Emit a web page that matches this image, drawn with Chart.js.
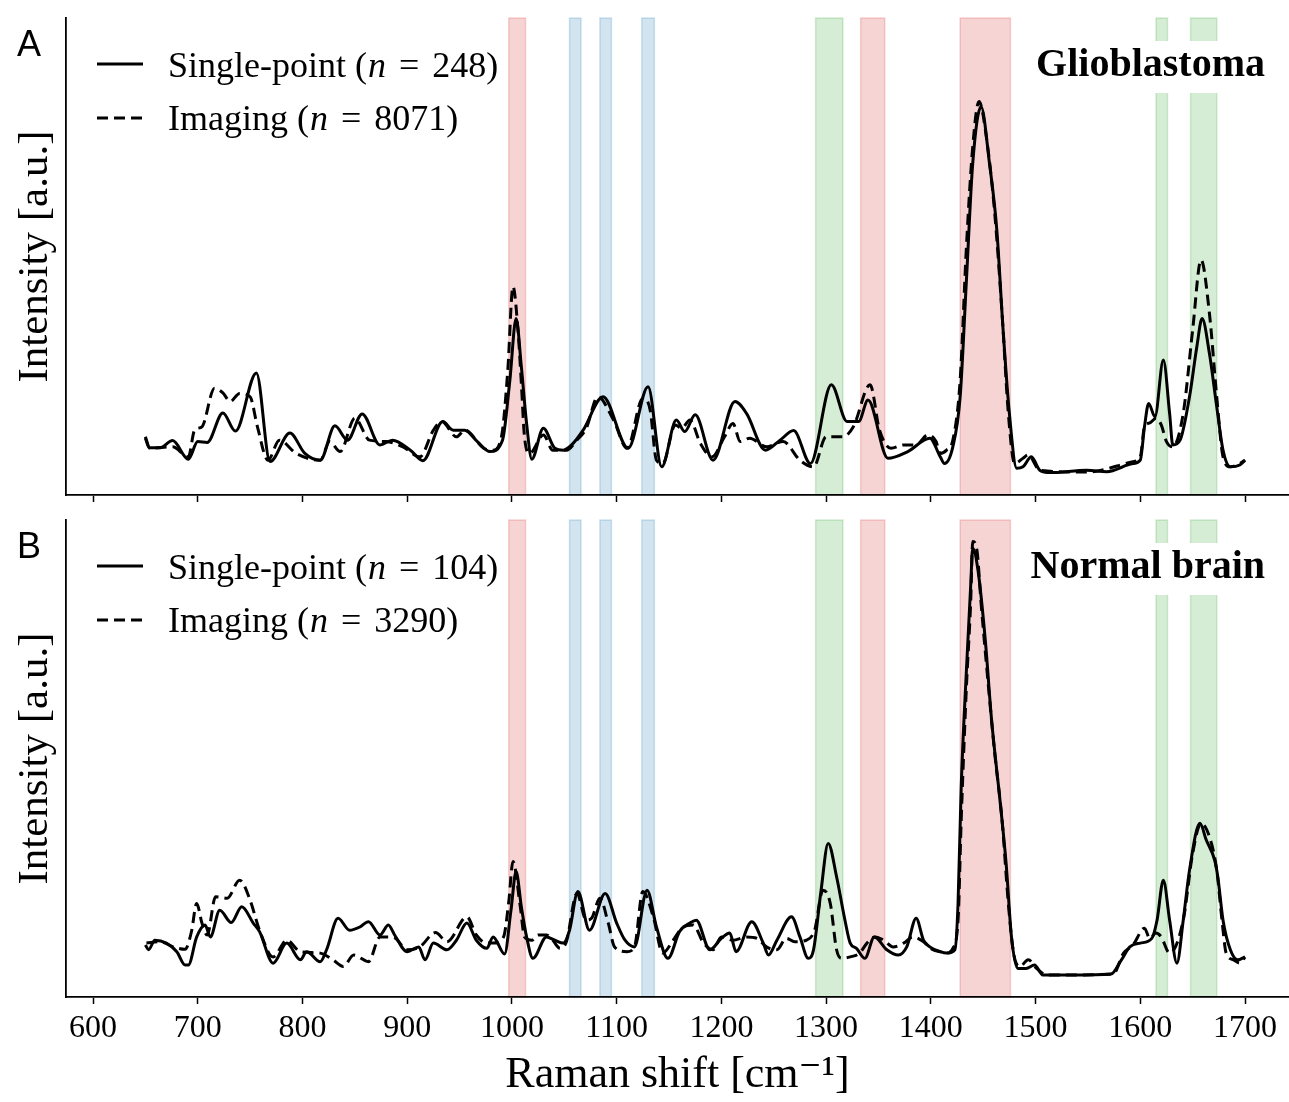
<!DOCTYPE html>
<html><head><meta charset="utf-8">
<script src="https://cdn.jsdelivr.net/npm/chart.js@4.4.1/dist/chart.umd.min.js"></script>
<style>
html,body{margin:0;padding:0;background:#fff;width:1289px;height:1102px;overflow:hidden}
canvas{position:absolute;left:0}
#cA{top:0}
#cB{top:502px}
</style></head><body>
<canvas id="cA" width="1289" height="502"></canvas>
<canvas id="cB" width="1289" height="600"></canvas>
<script>
// ---------- tick labels ----------
const xTickLabels = ['600','700','800','900','1000','1100','1200','1300','1400','1500','1600','1700'];

// ---------- highlighted Raman bands ----------
const bandStart = [997, 1055, 1084, 1124, 1290, 1333, 1428, 1615, 1648];
const bandEnd   = [1013, 1066, 1095, 1136, 1316, 1356, 1476, 1626, 1673];
const bandKind  = ['red','blue','blue','blue','green','red','red','green','green'];

// ---------- Panel A: Glioblastoma ----------
const gbSingleShift = [650,654,664,676,691,700,709,724,736,756,769,788,802,817,831,843,857,874,886,903,915,934,944,955,967,979,991,998,1004,1009,1014,1019,1030,1041,1049,1057,1068,1087,1111,1130,1143,1157,1165,1175,1192,1213,1224,1242,1256,1269,1285,1305,1320,1331,1340,1359,1378,1399,1409,1413,1421,1428,1434,1440,1448,1456,1463,1469,1475,1482,1488,1496,1504,1514,1549,1568,1593,1600,1604,1608,1614,1622,1628,1631,1638,1647,1654,1659,1666,1673,1679,1686,1695,1700];
const gbSingleIntensity = [12.2,9.9,9.9,11.4,7.5,11.2,11.0,17.2,13.4,25.6,7.0,13.0,8.8,7.3,14.5,11.5,17.0,10.5,11.5,9.4,7.2,15.4,13.6,13.6,11.2,9.1,11.5,24,37.0,26.9,15.0,7.5,14.0,9.8,9.4,10.5,13.6,20.6,9.8,22.7,5.9,15.7,13.3,16.8,7.3,19.6,17.1,9.4,11.5,13.5,6.6,23.1,15.4,15.4,19.9,7.7,9.1,11.9,8.0,6.6,10.1,20.6,45.1,69.5,81.4,69.5,55.6,34.6,17.1,5.6,5.9,8.0,5.2,4.7,5.2,4.9,6.6,7.3,14.3,19.2,16.4,28.3,17.1,10.5,11.5,20.6,31.1,37.0,29.7,18.5,9.4,5.9,6.3,7.3];

const gbImagingShift = [650,654,676,691,697,704,716,724,731,740,750,757,767,778,794,817,826,836,850,864,880,896,912,925,933,947,955,973,982,990,996,1001,1006,1009,1012,1017,1030,1039,1052,1062,1071,1082,1097,1110,1125,1132,1138,1144,1156,1162,1170,1180,1191,1203,1211,1218,1227,1243,1259,1275,1288,1300,1316,1326,1342,1351,1362,1374,1386,1397,1405,1409,1415,1421,1428,1434,1440,1446,1453,1461,1468,1474,1480,1488,1493,1504,1549,1593,1600,1604,1609,1615,1620,1625,1631,1641,1650,1658,1666,1673,1679,1686,1695,1700];
const gbImagingIntensity = [11.9,9.8,10.1,8.0,13.6,14.3,22.4,21.4,19.6,21.3,20.6,14.3,7.3,11.5,8.7,7.3,11.2,9.1,16.1,11.5,11.2,10.1,8.0,13.6,15.4,12.2,13.6,9.8,9.4,12.2,26,43.7,33.9,23.4,12.2,8.7,12.6,9.4,9.4,11.5,14.0,20.6,15.7,9.8,20.3,17.8,7.3,6.6,14.7,14.0,15.7,10.8,8.0,12.2,15.0,11.2,11.9,10.1,11.2,7.3,5.9,12.2,12.2,14.3,23.1,13.6,9.8,10.5,10.5,12.6,11.2,8.7,9.4,11.5,24.1,52.1,73.0,82.5,75.1,59.1,38.1,17.1,6.6,7.7,8.4,5.2,4.8,7.0,8.0,14.3,15.1,16.1,14.7,11.2,10.1,17.1,34.6,49.3,38.1,20.6,8.0,5.9,6.6,7.3];

// ---------- Panel B: Normal brain ----------
const nbSingleShift = [650,653,659,670,680,688,691,699,707,712,721,732,742,753,759,772,785,798,804,817,823,834,845,855,863,874,882,888,900,911,917,925,938,947,957,966,976,982,993,999,1004,1009,1014,1020,1033,1041,1049,1055,1063,1074,1089,1100,1108,1117,1129,1138,1149,1160,1170,1176,1189,1200,1208,1214,1229,1240,1245,1253,1267,1275,1283,1288,1295,1302,1310,1318,1323,1329,1337,1346,1358,1369,1377,1386,1393,1399,1409,1415,1423,1426,1429,1434,1438,1440,1445,1452,1458,1466,1472,1477,1483,1491,1499,1507,1536,1572,1582,1590,1600,1611,1616,1622,1628,1635,1641,1647,1657,1663,1671,1674,1679,1686,1693,1700];
const nbSingleIntensity = [10.9,9.9,11.9,11.3,9.5,6.7,6.7,12.6,15.1,12.6,18.2,15.6,18.9,15.5,13.7,7.1,11.3,7.8,9.5,7.4,9.9,16.5,14.0,14.7,15.8,13.0,15.1,13.0,9.5,10.5,7.8,11.3,9.9,11.9,15.5,11.9,10.2,12.6,9.0,18,26.3,18.9,12.6,8.1,12.6,11.9,11.3,14.0,22.1,14.0,21.7,15.5,11.9,10.5,22.4,14.7,8.1,13.7,15.5,16.1,9.9,12.3,13.4,9.5,15.8,11.3,8.8,11.9,16.8,12.6,8.1,9.9,22,32.2,25.2,16.1,11.3,10.2,8.1,12.6,9.9,8.8,10.5,16.5,11.9,10.5,9.5,9.2,9.9,19.7,44.1,68.6,86.0,94.1,89.5,74.8,58.1,41.3,27.7,12.6,6.0,6.0,6.7,4.6,4.6,4.8,7.8,10.5,11.3,12.3,16.1,24.5,16.1,7.1,16.1,26.6,36.4,32.9,28.7,25.2,16.1,9.9,7.8,8.4];

const nbImagingShift = [651,664,677,688,694,699,704,709,717,728,740,750,759,772,785,798,817,829,839,849,863,874,887,900,912,927,938,957,966,976,982,992,997,1001,1008,1012,1019,1025,1033,1039,1046,1052,1062,1071,1076,1084,1092,1098,1110,1117,1125,1135,1144,1154,1162,1173,1183,1192,1200,1211,1224,1234,1243,1253,1262,1270,1281,1289,1297,1304,1310,1315,1323,1332,1339,1347,1355,1364,1374,1383,1393,1402,1409,1415,1421,1426,1429,1434,1438,1440,1444,1448,1455,1461,1468,1474,1479,1485,1493,1501,1511,1574,1584,1593,1604,1609,1615,1620,1628,1641,1650,1658,1666,1673,1678,1682,1689,1695,1700];
const nbImagingIntensity = [11.3,11.6,10.5,10.0,13.7,19.6,15.5,13.0,21.0,20.7,24.5,20.3,14.0,8.4,11.9,9.5,9.2,7.8,6.4,8.8,7.4,12.6,12.5,9.9,10.5,13.5,11.6,16.8,13.0,11.3,11.3,12.6,20,28.4,18.9,12.6,11.9,13.0,13.0,11.9,10.2,11.6,21.7,16.1,16.5,20.7,15.5,10.5,9.5,10.5,22.1,16.8,9.2,11.9,14.4,15.1,11.3,9.9,12.6,11.9,12.6,12.3,10.5,9.9,12.3,11.6,11.9,14.0,22.4,19.6,9.9,8.1,8.4,9.2,11.3,12.6,11.9,10.5,11.3,12.6,11.6,9.9,9.5,9.2,10.2,16.1,37.1,65.1,82.5,95.5,93.7,82.5,65.1,51.1,37.1,19.6,9.2,6.4,7.8,6.0,4.6,4.8,9.2,10.9,14.4,12.3,13.4,12.6,9.2,16.1,30.1,36.4,33.6,26.6,16.1,9.2,7.8,7.1,8.4];

// ---------- styling ----------
const BAND_FILL = {red:'rgba(214,39,40,0.2)', blue:'rgba(31,119,180,0.2)', green:'rgba(44,160,44,0.2)'};
const SERIF = '"Liberation Serif","DejaVu Serif",serif';

function pts(xs, ys){ return xs.map((x,i)=>({x:x, y:ys[i]})); }

const panelPlugin = {
  id: 'panelDecor',
  beforeDraw(chart) {
    const {ctx, chartArea:{top,bottom}, scales:{x}} = chart;
    ctx.save();
    for (let i=0;i<bandStart.length;i++){
      const x0 = x.getPixelForValue(bandStart[i]);
      const x1 = x.getPixelForValue(bandEnd[i]);
      ctx.fillStyle = BAND_FILL[bandKind[i]];
      ctx.fillRect(x0, top, x1-x0, bottom-top);
      ctx.strokeStyle = BAND_FILL[bandKind[i]];
      ctx.lineWidth = 1.5;
      ctx.strokeRect(x0, top, x1-x0, bottom-top);
    }
    ctx.restore();
  },
  afterDatasetsDraw(chart, args, opts) {
    const {ctx, chartArea} = chart;
    ctx.save();
    // white legend box behind tissue label
    ctx.fillStyle = '#fff';
    ctx.fillRect(1022, chartArea.top + 23, 260, 52);
    ctx.fillStyle = '#000';
    ctx.font = 'bold 40px ' + SERIF;
    ctx.textAlign = 'right';
    ctx.textBaseline = 'alphabetic';
    ctx.fillText(opts.tissue, chartArea.right - 24, chartArea.top + 58);
    // panel letter
    ctx.font = '36px "Liberation Sans", Arial, sans-serif';
    ctx.textAlign = 'left';
    ctx.fillText(opts.letter, 17, 56);
    // legend
    const rows = [
      {label: 'Single-point (', n: opts.nSingle, dash: [], y: 64, base: 77},
      {label: 'Imaging (', n: opts.nImaging, dash: [11,6], y: 118, base: 130}
    ];
    rows.forEach(r => {
      ctx.beginPath();
      ctx.setLineDash(r.dash);
      ctx.lineWidth = 3;
      ctx.strokeStyle = '#000';
      ctx.moveTo(97, r.y); ctx.lineTo(143, r.y);
      ctx.stroke();
      ctx.setLineDash([]);
      let xx = 168;
      ctx.font = '36px ' + SERIF;
      ctx.fillText(r.label, xx, r.base);
      xx += ctx.measureText(r.label).width + 1;
      ctx.font = 'italic 36px ' + SERIF;
      ctx.fillText('n', xx, r.base);
      xx += ctx.measureText('n').width + 13;
      ctx.font = '36px ' + SERIF;
      ctx.fillText('=', xx, r.base);
      xx += ctx.measureText('=').width + 13;
      ctx.fillText(r.n + ')', xx, r.base);
    });
    ctx.restore();
  }
};

function makePanel(id, single, imaging, showLabels, decor) {
  return new Chart(document.getElementById(id), {
    type: 'line',
    data: {
      datasets: [
        {label: 'Single-point', data: single, borderColor: '#000', borderWidth: 3,
         pointRadius: 0, cubicInterpolationMode: 'monotone', fill: false},
        {label: 'Imaging', data: imaging, borderColor: '#000', borderWidth: 3, borderDash: [11,6],
         pointRadius: 0, cubicInterpolationMode: 'monotone', fill: false}
      ]
    },
    options: {
      responsive: false, animation: false, devicePixelRatio: 1,
      layout: {padding: {top: 18, left: 0, right: 0, bottom: 0}},
      plugins: {legend: {display: false}, tooltip: {enabled: false}, panelDecor: decor},
      scales: {
        x: {
          type: 'linear', min: 574.2, max: 1742,
          afterBuildTicks: (s) => { s.ticks = xTickLabels.map(v => ({value: Number(v)})); },
          ticks: {display: showLabels, includeBounds: false, padding: 5, color: '#000',
                  font: {family: SERIF, size: 32},
                  callback: (v) => xTickLabels[xTickLabels.indexOf(String(v))]},
          grid: {display: true, drawOnChartArea: false, drawTicks: true, tickLength: 7,
                 tickWidth: 1.5, tickColor: '#000'},
          border: {display: true, color: '#000', width: 1.8},
          title: {display: showLabels, text: 'Raman shift [cm\u207B\u00B9]', color: '#000',
                  font: {family: SERIF, size: 44}, padding: {top: 0, bottom: 0}},
          afterFit: (s) => { s.height = showLabels ? 105 : 7; }
        },
        y: {
          min: 0, max: 100,
          ticks: {display: false},
          grid: {display: false},
          border: {display: true, color: '#000', width: 1.8},
          title: {display: true, text: 'Intensity [a.u.]', color: '#000',
                  font: {family: SERIF, size: 43}, padding: {top: 10, bottom: 0}},
          afterFit: (s) => { s.width = 66; }
        }
      }
    },
    plugins: [panelPlugin]
  });
}

makePanel('cA', pts(gbSingleShift, gbSingleIntensity), pts(gbImagingShift, gbImagingIntensity), false,
  {letter: 'A', tissue: 'Glioblastoma', nSingle: '248', nImaging: '8071'});
makePanel('cB', pts(nbSingleShift, nbSingleIntensity), pts(nbImagingShift, nbImagingIntensity), true,
  {letter: 'B', tissue: 'Normal brain', nSingle: '104', nImaging: '3290'});
</script>
</body></html>
